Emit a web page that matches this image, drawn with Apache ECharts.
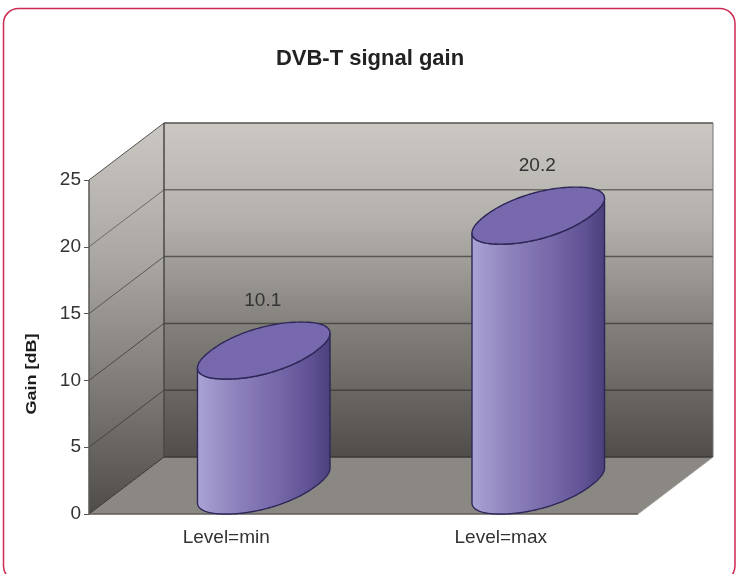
<!DOCTYPE html>
<html>
<head>
<meta charset="utf-8">
<title>DVB-T signal gain</title>
<style>
  html, body { margin: 0; padding: 0; background: #fff; }
  #chart { width: 736px; height: 574px; }
</style>
<script src="https://cdn.jsdelivr.net/npm/echarts@6/dist/echarts.min.js"></script>
</head>
<body>
<div id="chart"></div>
<script>
var categories = ['Level=min', 'Level=max'];
var gainValues = [10.1, 20.2];
var gainLabels = ['10.1', '20.2'];
var yTicks = [0, 5, 10, 15, 20, 25];

var FONT = '"Liberation Sans", Arial, sans-serif';
// 3d depth of the box, front plane -> back plane
var DEPTH_X = 75;
var DEPTH_Y = -57;
// gridlines get darker towards the floor
var GRID_COLORS = { 5: '#45423f', 10: '#4c4946', 15: '#5a5753', 20: '#6d6a65', 25: '#55524e' };

function grad(stops) {
    return new echarts.graphic.LinearGradient(0, 0, 0, 1, stops);
}

function poly(points, style) {
    return { type: 'polygon', shape: { points: points }, style: style };
}

function line(x1, y1, x2, y2, color, width) {
    return {
        type: 'line',
        shape: { x1: x1, y1: y1, x2: x2, y2: y2 },
        style: { stroke: color, lineWidth: width, fill: null }
    };
}

// back wall, side wall, floor and their gridlines
function renderWalls(params, api) {
    var g = params.coordSys;
    var left = g.x, right = g.x + g.width;
    var bottom = api.coord([0, 0])[1];
    var top = api.coord([0, 25])[1];
    var kids = [];
    kids.push(poly([
        [left + DEPTH_X, top + DEPTH_Y], [right + DEPTH_X, top + DEPTH_Y],
        [right + DEPTH_X, bottom + DEPTH_Y], [left + DEPTH_X, bottom + DEPTH_Y]
    ], { fill: grad([
        { offset: 0, color: '#cbc8c3' },
        { offset: 0.3, color: '#b3b0ab' },
        { offset: 0.6, color: '#84817c' },
        { offset: 1, color: '#514d4a' }
    ]) }));
    kids.push(poly([
        [left, top], [left + DEPTH_X, top + DEPTH_Y],
        [left + DEPTH_X, bottom + DEPTH_Y], [left, bottom]
    ], { fill: grad([
        { offset: 0, color: '#cbc8c3' },
        { offset: 0.35, color: '#aaa7a2' },
        { offset: 0.7, color: '#7b7873' },
        { offset: 1, color: '#4f4c49' }
    ]) }));
    kids.push(poly([
        [left, bottom], [right, bottom],
        [right + DEPTH_X, bottom + DEPTH_Y], [left + DEPTH_X, bottom + DEPTH_Y]
    ], { fill: '#8b8884' }));

    yTicks.forEach(function (t) {
        var y = api.coord([0, t])[1];
        if (t > 0) {
            kids.push(line(left + DEPTH_X, y + DEPTH_Y, right + DEPTH_X, y + DEPTH_Y, GRID_COLORS[t], 1.5));
        }
        kids.push(line(left, y, left + DEPTH_X, y + DEPTH_Y, t === 0 ? '#33302e' : GRID_COLORS[t], 1));
    });
    kids.push(line(left, top, left, bottom, '#5a5754', 1.5));
    kids.push(line(left + DEPTH_X, top + DEPTH_Y, left + DEPTH_X, bottom + DEPTH_Y, '#4a4744', 1.5));
    kids.push(line(right + DEPTH_X, top + DEPTH_Y, right + DEPTH_X, bottom + DEPTH_Y, '#777470', 1));
    kids.push(line(left + DEPTH_X, bottom + DEPTH_Y, right + DEPTH_X, bottom + DEPTH_Y, '#3c3936', 1.5));
    kids.push(line(left, bottom, right, bottom, '#5e5b58', 1.5));
    kids.push(line(right, bottom, right + DEPTH_X, bottom + DEPTH_Y, '#a09d99', 1));
    return { type: 'group', children: kids };
}

// rim of the cylinder, a bit fatter than a true ellipse like the original
function rimPoint(fx, fy, halfW, t) {
    var p = 0.93;
    var c = Math.cos(t), s = Math.sin(t);
    c = (c < 0 ? -1 : 1) * Math.pow(Math.abs(c), p);
    s = (s < 0 ? -1 : 1) * Math.pow(Math.abs(s), p);
    return [
        fx + DEPTH_X / 2 + halfW * c + DEPTH_X / 2 * s,
        fy + DEPTH_Y / 2 + DEPTH_Y / 2 * s
    ];
}

function renderCylinder(params, api) {
    var idx = api.value(0);
    var val = api.value(1);
    var base = api.coord([idx, 0]);
    var head = api.coord([idx, val]);
    var halfW = api.size([1, 0])[0] * 0.385 / 2;
    var steps = 180;
    var i, k;

    // find the sample where the rim is furthest right, front half starts there
    var start = 0, maxX = -Infinity;
    for (i = 0; i < steps; i++) {
        var px = rimPoint(0, 0, halfW, i / steps * Math.PI * 2)[0];
        if (px > maxX) { maxX = px; start = i; }
    }
    var body = [];
    for (k = 0; k <= steps / 2; k++) {
        body.push(rimPoint(base[0], base[1], halfW, (start - k) / steps * Math.PI * 2));
    }
    for (k = steps / 2; k >= 0; k--) {
        body.push(rimPoint(base[0], head[1], halfW, (start - k) / steps * Math.PI * 2));
    }
    var cap = [];
    for (i = 0; i < steps; i++) {
        cap.push(rimPoint(base[0], head[1], halfW, i / steps * Math.PI * 2));
    }
    var outline = '#2e2858';
    return {
        type: 'group',
        children: [
            poly(body, {
                fill: new echarts.graphic.LinearGradient(0, 0, 1, 0, [
                    { offset: 0, color: '#aaa4d6' },
                    { offset: 0.3, color: '#8d81bb' },
                    { offset: 0.62, color: '#7566a8' },
                    { offset: 0.85, color: '#5f5193' },
                    { offset: 1, color: '#4b3f7b' }
                ]),
                stroke: outline,
                lineWidth: 1.4
            }),
            poly(cap, { fill: '#7868ae', stroke: outline, lineWidth: 1.4 }),
            {
                type: 'text',
                style: {
                    x: base[0] + DEPTH_X / 2 - 1,
                    y: head[1] + DEPTH_Y - 21,
                    text: gainLabels[idx],
                    fill: '#333',
                    font: '19px ' + FONT,
                    align: 'center',
                    verticalAlign: 'middle'
                }
            }
        ]
    };
}

var chart = echarts.init(document.getElementById('chart'), null, { renderer: 'canvas' });
chart.setOption({
    animation: false,
    backgroundColor: '#fff',
    title: {
        text: 'DVB-T signal gain',
        left: 365,
        top: 43,
        textAlign: 'center',
        textStyle: { fontFamily: FONT, fontSize: 22, fontWeight: 'bold', color: '#222' }
    },
    grid: { left: 89, top: 180, width: 549, height: 334 },
    xAxis: {
        type: 'category',
        data: categories,
        axisTick: { show: false },
        axisLine: { show: false },
        axisLabel: { fontFamily: FONT, fontSize: 19, color: '#333', margin: 14 }
    },
    yAxis: {
        type: 'value',
        min: 0,
        max: 25,
        interval: 5,
        splitLine: { show: false },
        axisLine: { show: true, lineStyle: { color: '#5a5754' } },
        axisTick: { show: true, length: 5, lineStyle: { color: '#5a5754' } },
        axisLabel: { fontFamily: FONT, fontSize: 19, color: '#333', margin: 8 }
    },
    series: [
        {
            type: 'custom',
            coordinateSystem: 'cartesian2d',
            silent: true,
            clip: false,
            renderItem: renderWalls,
            data: [[0, 0]],
            z: 1
        },
        {
            type: 'custom',
            coordinateSystem: 'cartesian2d',
            silent: true,
            clip: false,
            renderItem: renderCylinder,
            encode: { x: 0, y: 1 },
            data: gainValues.map(function (v, i) { return [i, v]; }),
            z: 2
        }
    ],
    graphic: [
        {
            type: 'rect',
            silent: true,
            z: 10,
            shape: { x: 3.5, y: 8.5, width: 731.5, height: 572.5, r: 15 },
            style: { fill: null, stroke: '#cc2a52', lineWidth: 1.5 }
        },
        {
            type: 'text',
            silent: true,
            z: 10,
            x: 32,
            y: 374,
            rotation: Math.PI / 2,
            scaleX: 1.2,
            style: {
                text: 'Gain [dB]',
                fill: '#1c1c1c',
                font: 'bold 15px ' + FONT,
                align: 'center',
                verticalAlign: 'middle'
            }
        }
    ]
});
</script>
</body>
</html>
